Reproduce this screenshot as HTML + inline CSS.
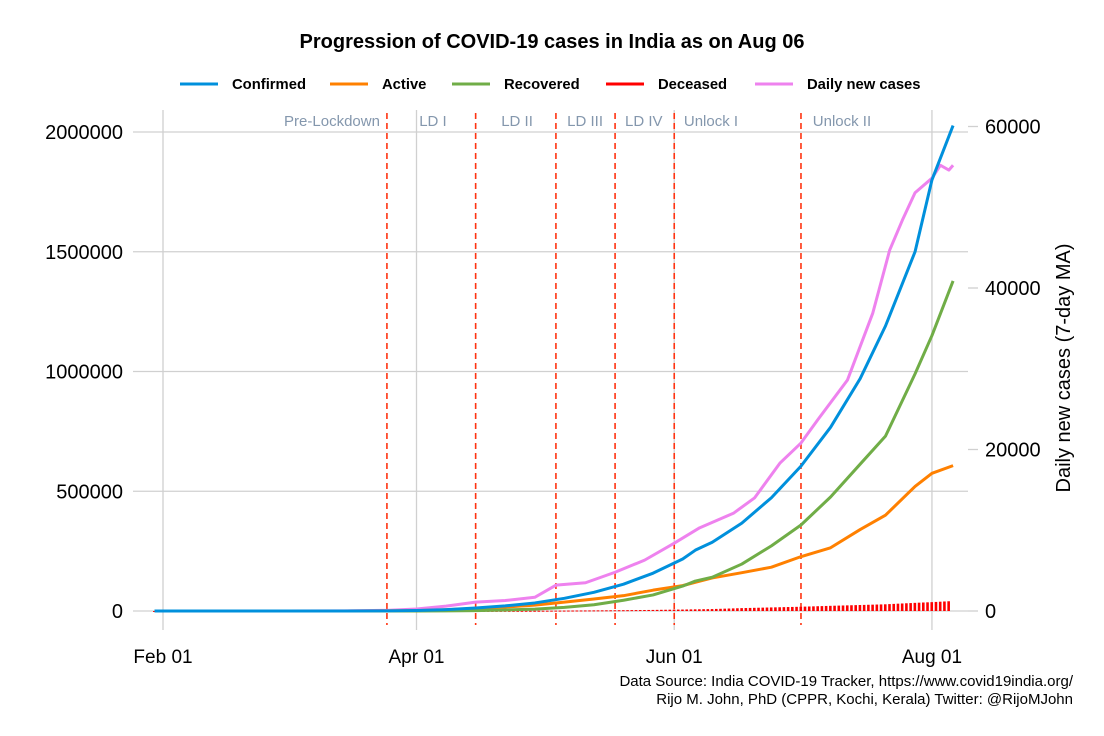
<!DOCTYPE html>
<html><head><meta charset="utf-8"><style>
body{margin:0;background:#fff;}
svg{display:block;font-family:"Liberation Sans",Arial,sans-serif;}
</style></head><body>
<svg id="chart" width="1104" height="736" viewBox="0 0 1104 736">
<text x="552" y="48" text-anchor="middle" font-size="20" font-weight="bold">Progression of COVID-19 cases in India as on Aug 06</text>
<g id="legend"></g>
<g id="grid"></g><g id="phases"></g><g id="series"></g><g id="axes"></g>
<text x="1073" y="686" text-anchor="end" font-size="15">Data Source: India COVID-19 Tracker, https://www.covid19india.org/</text>
<text x="1073" y="704" text-anchor="end" font-size="15">Rijo M. John, PhD (CPPR, Kochi, Kerala) Twitter: @RijoMJohn</text>
<text transform="translate(1070,368) rotate(-90)" text-anchor="middle" font-size="20">Daily new cases (7-day MA)</text>
</svg>
<script>
// days since Feb 01 2020
const cumDays=[-2,29,43,53,60,67,74,81,88,95,102,109,116,123,126,130,137,144,151,158,165,171,178,182,187];
const confirmed=[1,3,110,650,2000,5900,12400,21400,33600,52900,78000,112000,158000,217000,254000,287000,367000,473000,605000,767000,970000,1190000,1500000,1800000,2027000];
const active=[1,0,100,600,1800,5200,10500,16500,24500,37000,50000,64000,87000,106000,120000,138000,160000,183000,227000,264000,340000,400000,520000,575000,607000];
const recovered=[0,3,10,45,170,500,1500,4300,8000,15000,26000,45000,67000,104000,125000,141000,196000,272000,359000,476000,613000,730000,990000,1150000,1378000];
const deceased=[0,0,2,12,50,180,420,680,1080,1780,2550,3400,4500,6100,7000,8100,12000,14900,17800,21600,25000,28000,34000,37000,41600];
const maDays=[-2,29,43,53,60,67,74,81,88,93,100,107,114,121,127,135,140,146,151,155,162,168,172,175,178,182,184,186,187];
const dailyMA=[0,0,15,80,250,600,1100,1300,1700,3200,3500,4800,6300,8400,10300,12100,14000,18300,20800,23700,28600,36900,44700,48400,51800,53600,55200,54600,55200];
const leftTicks=[0,500000,1000000,1500000,2000000];
const rightTicks=[0,20000,40000,60000];
const xTickDays=[0,60,121,182];
const xTickLabels=["Feb 01","Apr 01","Jun 01","Aug 01"];
const phaseDays=[53,74,93,107,121,151];
const phaseLabels=["Pre-Lockdown","LD I","LD II","LD III","LD IV","Unlock I","Unlock II"];
const phaseLabelDays=[40,63.9,83.8,99.9,113.8,129.7,160.7];

const X=d=>163+d*4.225;
const YL=v=>611-v*(479/2000000);
const YR=v=>611-v*(484.5/60000);
const NS="http://www.w3.org/2000/svg";
function mk(tag,attrs,parent,txt){const e=document.createElementNS(NS,tag);for(const k in attrs)e.setAttribute(k,attrs[k]);if(txt!==undefined)e.textContent=txt;parent.appendChild(e);return e;}
const grid=document.getElementById('grid'),axes=document.getElementById('axes'),ser=document.getElementById('series'),ph=document.getElementById('phases'),lg=document.getElementById('legend');

leftTicks.forEach(v=>{
 const l=mk('line',{x1:133,x2:968,y1:YL(v),y2:YL(v),stroke:'#d0d0d0','stroke-width':1.3},grid);
 
 
 const t=mk('text',{x:123,y:YL(v)+7,'text-anchor':'end','font-size':20},axes,String(v));
 
 
});
rightTicks.forEach(v=>{
 const l=mk('line',{x1:968,x2:978,y1:YR(v),y2:YR(v),stroke:'#d0d0d0','stroke-width':1.3},grid);
 
 
 const t=mk('text',{x:985,y:YR(v)+7,'font-size':20},axes,String(v));
 
 
});
xTickDays.forEach((d,i)=>{
 const l=mk('line',{x1:X(d),x2:X(d),y1:110,y2:630,stroke:'#d0d0d0','stroke-width':1.3},grid);
 
 
 const t=mk('text',{x:X(d),y:663,'text-anchor':'middle','font-size':19},axes,xTickLabels[i]);
 
 
});
phaseDays.forEach(d=>{
 const l=mk('line',{x1:X(d),x2:X(d),y1:113,y2:625,stroke:'#ff3311','stroke-width':1.6,'stroke-dasharray':'6,4'},ph);
 
 
});
phaseLabels.forEach((s,i)=>{
 const t=mk('text',{x:X(phaseLabelDays[i]),y:126,'text-anchor':'middle','font-size':15,fill:'#8497ad'},ph,s);
 
 
});
(function(){
 for(let i=0;i<cumDays.length-1;i++){
  const d0=cumDays[i],d1=cumDays[i+1];
  for(let d=Math.ceil(d0);d<d1;d++){
   const v=deceased[i]+(deceased[i+1]-deceased[i])*(d-d0)/(d1-d0);
   const b=mk('rect',{x:X(d)-1.5,y:YL(v),width:2.6,height:Math.max(611-YL(v),1),fill:'#ff0000'},ser);
   
   
  }
 }
})();
function line(days,vals,yf,color,name){
 const p=mk('polyline',{points:days.map((d,i)=>X(d)+','+yf(vals[i])).join(' '),fill:'none',stroke:color,'stroke-width':3,'stroke-linejoin':'round'},ser);
 
 
}
line(maDays,dailyMA,YR,'#ee82ee','daily-new-cases-line');
line(cumDays,active,YL,'#ff8000','active-line');
line(cumDays,recovered,YL,'#70ad47','recovered-line');
line(cumDays,confirmed,YL,'#0090dc','confirmed-line');

const legItems=[["Confirmed","#0090dc",180],["Active","#ff8000",330],["Recovered","#70ad47",452],["Deceased","#ff0000",606],["Daily new cases","#ee82ee",755]];
legItems.forEach(it=>{
 const g=mk('g',{},lg);
 
 
 mk('line',{x1:it[2],x2:it[2]+38,y1:84,y2:84,stroke:it[1],'stroke-width':3},g);
 mk('text',{x:it[2]+52,y:89,'font-size':14.8,'font-weight':'bold'},g,it[0]);
});
</script>
</body></html>
